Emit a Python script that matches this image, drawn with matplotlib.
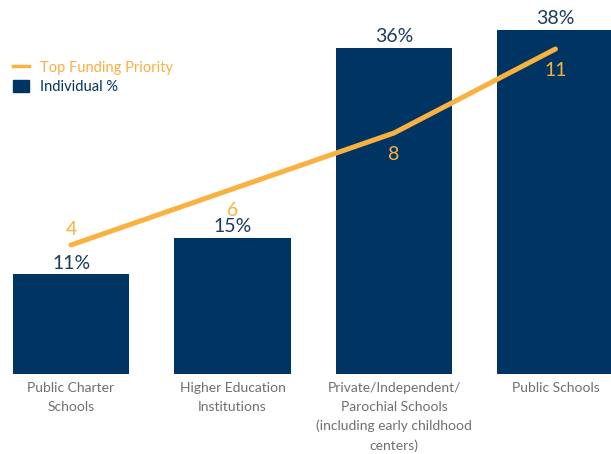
import numpy as np
import matplotlib
matplotlib.use("Agg")
import matplotlib.pyplot as plt
from matplotlib.lines import Line2D
from matplotlib.patches import Patch

# survey results
categories = [
    "Public Charter\nSchools",
    "Higher Education\nInstitutions",
    "Private/Independent/\nParochial Schools\n(including early childhood\ncenters)",
    "Public Schools",
]
individual_pct = [11, 15, 36, 38]
top_priority = [4, 6, 8, 11]

NAVY = "#003462"
ORANGE = "#F9B140"
GREY = "#6f6f6f"

plt.rcParams["font.family"] = ["Lato", "DejaVu Sans"]

fig = plt.figure(figsize=(6.11, 4.54), dpi=100)
ax = fig.add_axes([0, 80 / 454, 1, 374 / 454])
ax2 = ax.twinx()

x = np.arange(len(categories))
ax.bar(x, individual_pct, width=0.724, color=NAVY, zorder=1)
for xi, v in zip(x, individual_pct):
    ax.annotate(f"{v}%", (xi, v), xytext=(0, 2), textcoords="offset points",
                ha="center", va="bottom", fontsize=14, color="#1d3a5f")

ax2.plot(x, top_priority, color=ORANGE, lw=3.6, solid_capstyle="round", zorder=3)
for i, (xi, v) in enumerate(zip(x, top_priority)):
    # first point label sits above the line, the rest below
    dy = 5 if i == 0 else -9
    ax2.annotate(str(v), (xi, v), xytext=(0, dy), textcoords="offset points",
                 ha="center", va="bottom" if i == 0 else "top",
                 fontsize=14, color=ORANGE)

ax.set_xlim(-0.44, 3.344)
ax.set_ylim(0, 374 / 9.05)
ax2.set_ylim((357 - 374) / 28, 357 / 28)

ax.set_xticks(x)
ax.set_xticklabels(categories, fontsize=10, color=GREY, linespacing=1.65)
ax.tick_params(axis="x", length=0, pad=6)
ax.set_yticks([])
ax2.set_yticks([])
for a in (ax, ax2):
    for s in a.spines.values():
        s.set_visible(False)
ax.patch.set_visible(False)

handles = [Line2D([0], [0], color=ORANGE, lw=2.5),
           Patch(facecolor=NAVY, edgecolor=NAVY)]
leg = fig.legend(handles, ["Top Funding Priority", "Individual %"],
                 loc="upper left", bbox_to_anchor=(0.0, 0.895),
                 frameon=False, fontsize=10.5, handlelength=1.1,
                 handleheight=0.9, handletextpad=0.75, labelspacing=0.35)
for txt, c in zip(leg.get_texts(), [ORANGE, NAVY]):
    txt.set_color(c)

fig.savefig("out.png", dpi=100)
